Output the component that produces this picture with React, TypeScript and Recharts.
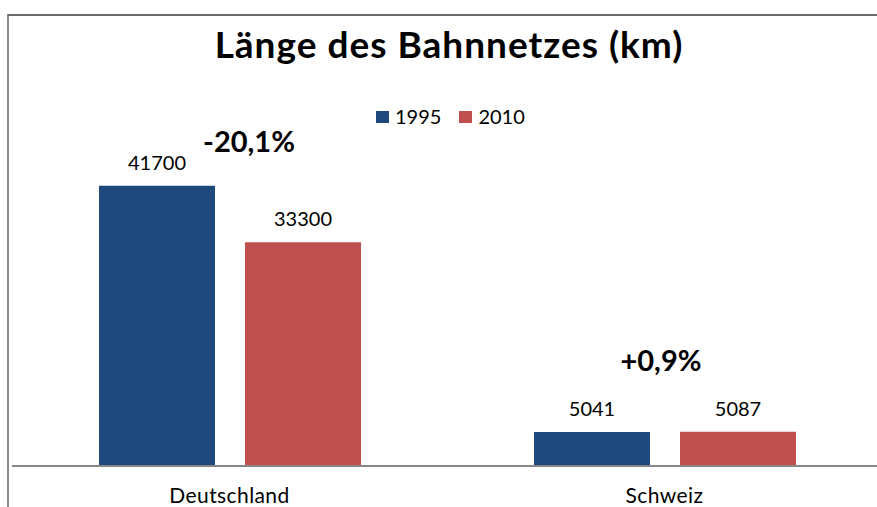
import React from 'react';
import { BarChart, Bar, XAxis, YAxis, LabelList, Legend } from 'recharts';

const countries = ['Deutschland', 'Schweiz'];
const values1995 = [41700, 5041];
const values2010 = [33300, 5087];
const changes = ['-20,1%', '+0,9%'];
const seriesNames = ['1995', '2010'];
const seriesColors = ['#1F497D', '#C0504D'];

const FONT = 'Lato, "Open Sans", sans-serif';

// where the change text boxes sit, relative to the group centre / 1995 bar top
const changeOffsets = [
    { dx: 19, dy: -34 },
    { dx: -4, dy: -61 },
];

const data = countries.map((country, i) => ({
    country,
    v1995: values1995[i],
    v2010: values2010[i],
    change: changes[i],
}));

function ChangeLabel(props: any) {
    const vb = props.viewBox || {};
    const x = vb.x ?? props.x;
    const y = vb.y ?? props.y;
    const w = vb.width ?? props.width;
    const i = changes.indexOf(props.value);
    if (i < 0) return null;
    const off = changeOffsets[i];
    return (
        <text
            x={x + w + 15 + off.dx}
            y={y + off.dy}
            textAnchor="middle"
            fontFamily={FONT}
            fontWeight={700}
            fontSize={29}
            fill="#000"
        >
            {props.value}
        </text>
    );
}

const renderLegend = () => (
    <div style={{ display: 'flex', fontFamily: FONT, fontSize: 20, color: '#000', lineHeight: '23px' }}>
        {seriesNames.map((name, i) => (
            <span key={name} style={{ display: 'inline-flex', alignItems: 'center', marginRight: 18 }}>
                <span style={{ display: 'inline-block', width: 13, height: 12, background: seriesColors[i], marginRight: 6 }} />
                {name}
            </span>
        ))}
    </div>
);

export default function App() {
    const labelStyle = { fontFamily: FONT, fontSize: 20, fill: '#000' };
    return (
        <div style={{ position: 'absolute', left: 0, top: 0, width: 877, height: 507, overflow: 'hidden', background: '#fff' }}>
            {/* frame of the chart area, cut off at right and bottom */}
            <div style={{ position: 'absolute', left: 7, top: 14, width: 880, height: 500, borderLeft: '2px solid #8a8a8a', borderTop: '2px solid #6a6a6a' }} />
            <BarChart
                width={882}
                height={507}
                data={data}
                margin={{ top: 130, right: 0, left: 12, bottom: 0 }}
                barGap={30}
                style={{ position: 'absolute', left: 0, top: 0 }}
            >
                <XAxis
                    dataKey="country"
                    axisLine={{ stroke: '#868686', strokeWidth: 2 }}
                    tickLine={false}
                    tickSize={0}
                    tickMargin={22}
                    tick={{ fontFamily: FONT, fontSize: 21, fill: '#000', letterSpacing: 0.4 }}
                    height={41}
                    interval={0}
                />
                <YAxis hide domain={[0, 50000]} />
                <Legend
                    layout="horizontal"
                    verticalAlign="middle"
                    align="center"
                    content={renderLegend}
                    wrapperStyle={{ top: 105, left: 376, width: 'auto', height: 'auto' }}
                />
                <Bar dataKey="v1995" name={seriesNames[0]} fill={seriesColors[0]} barSize={116} isAnimationActive={false}>
                    <LabelList dataKey="v1995" position="top" offset={16} style={labelStyle} />
                    <LabelList dataKey="change" content={ChangeLabel} />
                </Bar>
                <Bar dataKey="v2010" name={seriesNames[1]} fill={seriesColors[1]} barSize={116} isAnimationActive={false}>
                    <LabelList dataKey="v2010" position="top" offset={16} style={labelStyle} />
                </Bar>
            </BarChart>
            <svg width={877} height={507} style={{ position: 'absolute', left: 0, top: 0, pointerEvents: 'none' }}>
                <text x={449} y={58} textAnchor="middle" fontFamily={FONT} fontWeight={700} fontSize={37} letterSpacing={1} fill="#000">
                    Länge des Bahnnetzes (km)
                </text>
            </svg>
        </div>
    );
}
